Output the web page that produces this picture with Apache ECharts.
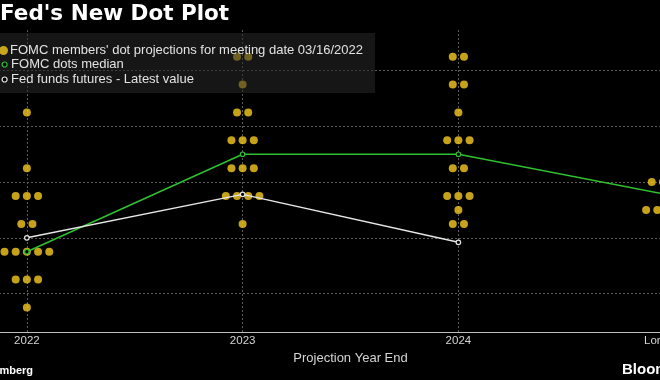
<!DOCTYPE html>
<html><head><meta charset="utf-8">
<script src="https://cdn.jsdelivr.net/npm/echarts@6/dist/echarts.min.js"></script>
<style>html,body{margin:0;padding:0;background:#000;}#c{width:660px;height:380px;}</style>
</head><body><div id="c"></div>
<script>
// ---- data ----
const categories = ['2022', '2023', '2024', 'Longer Run'];
const dots2022 = [3.125, 2.625, 2.375, 2.375, 2.375, 2.125, 2.125, 1.875, 1.875, 1.875, 1.875, 1.875, 1.625, 1.625, 1.625, 1.375];
const dots2023 = [3.625, 3.625, 3.375, 3.125, 3.125, 2.875, 2.875, 2.875, 2.625, 2.625, 2.625, 2.375, 2.375, 2.375, 2.375, 2.125];
const dots2024 = [3.625, 3.625, 3.375, 3.375, 3.125, 2.875, 2.875, 2.875, 2.625, 2.625, 2.375, 2.375, 2.375, 2.25, 2.125, 2.125];
const dotsLonger = [3.0, 3.0, 2.75, 2.5, 2.5, 2.5, 2.5, 2.5, 2.25, 2.25, 2.25, 2.25, 2.25, 2.25, 2.0, 2.0];
const medianValues = [1.875, 2.75, 2.75, 2.375];
const futuresValues = [2.0, 2.39, 1.96, null];
const gridValues = [1.5, 2.0, 2.5, 3.0, 3.5];
const seriesNames = ["FOMC members' dot projections for meeting date 03/16/2022", 'FOMC dots median', 'Fed funds futures - Latest value'];

// ---- styling ----
const DOT_SPACING = 11.2;
const YELLOW = '#f6cb20';
const GREEN = '#2fc12f';
const WHITE = '#e6e6e6';
const FONT = 'Liberation Sans';

function buildDots(cat, vals) {
  const groups = {};
  vals.forEach(v => { (groups[v] = groups[v] || []).push(v); });
  const out = [];
  Object.keys(groups).forEach(k => {
    const n = groups[k].length;
    for (let i = 0; i < n; i++) {
      out.push({ value: [cat, Number(k)], symbolOffset: [(i - (n - 1) / 2) * DOT_SPACING, 0] });
    }
  });
  return out;
}
const allDots = [].concat(
  buildDots(categories[0], dots2022),
  buildDots(categories[1], dots2023),
  buildDots(categories[2], dots2024),
  buildDots(categories[3], dotsLonger)
);

const chart = echarts.init(document.getElementById('c'), null, { renderer: 'canvas' });
const gridLine = { color: '#5c5c5c', type: [2, 2], width: 1 };
chart.setOption({
  backgroundColor: '#000',
  animation: false,
  title: {
    text: "Fed's New Dot Plot", left: 0, top: 3, padding: 0,
    textStyle: { color: '#fff', fontFamily: 'DejaVu Sans', fontWeight: 'bold', fontSize: 21.5 }
  },
  grid: { left: -81, right: -122, top: 30, bottom: 48, containLabel: false, outerBoundsMode: 'none' },
  xAxis: {
    type: 'category', data: categories, boundaryGap: true,
    axisLine: { show: true, lineStyle: { color: '#bdbdbd', width: 1 } },
    axisTick: { show: false },
    splitLine: { show: false },
    axisLabel: { interval: 0, color: '#d4d4d4', fontFamily: FONT, fontSize: 11.5, margin: 3, hideOverlap: false },
    name: 'Projection Year End', nameLocation: 'middle', nameGap: 13,
    nameTextStyle: { color: '#d4d4d4', fontFamily: FONT, fontSize: 13 }
  },
  yAxis: {
    type: 'value', min: 1.155, max: 3.865,
    axisLine: { show: false }, axisTick: { show: false }, axisLabel: { show: false },
    splitLine: { show: false }
  },
  legend: [
    {
      data: [{ name: seriesNames[0], icon: 'circle', itemStyle: { color: YELLOW } }],
      left: -1, top: 44, padding: 0, itemWidth: 9, itemHeight: 9, z: 10,
      textStyle: { color: '#e2e2e2', fontFamily: FONT, fontSize: 13, padding: [0, 0, 0, -3] },
      selectedMode: false
    },
    {
      data: [
        { name: seriesNames[1], icon: 'circle', itemStyle: { color: '#000', borderColor: GREEN, borderWidth: 1.2 } },
        { name: seriesNames[2], icon: 'circle', itemStyle: { color: '#000', borderColor: WHITE, borderWidth: 1.2 } }
      ],
      orient: 'vertical', left: 1.5, top: 58, padding: 0, itemWidth: 5, itemHeight: 5, itemGap: 2, z: 10,
      textStyle: { color: '#e2e2e2', fontFamily: FONT, fontSize: 13, padding: [0, 0, 0, -1] },
      selectedMode: false
    }
  ],
  graphic: [
    { type: 'rect', left: 0, top: 33, z: 4, shape: { width: 375, height: 60 }, style: { fill: 'rgba(40,40,40,0.55)' } },
    { type: 'text', x: 33, y: 371, z: 10, style: { text: 'Source: Bloomberg', fill: '#fff', font: 'bold 11px "Liberation Sans"', textAlign: 'right', textVerticalAlign: 'middle' } },
    { type: 'text', x: 622, y: 369.5, z: 10, style: { text: 'Bloomberg', fill: '#fff', font: 'bold 15px "Liberation Sans"', textAlign: 'left', textVerticalAlign: 'middle' } }
  ],
  series: [
    {
      name: seriesNames[0], type: 'scatter', data: allDots, symbol: 'circle', symbolSize: 8,
      itemStyle: { color: YELLOW }, z: 2,
      markLine: {
        silent: true, symbol: 'none', z: 1, label: { show: false }, animation: false,
        lineStyle: gridLine,
        data: gridValues.map(v => ({ yAxis: v })).concat(categories.map(c => ({ xAxis: c })))
      }
    },
    {
      name: seriesNames[1], type: 'line', data: medianValues, symbol: 'circle', symbolSize: 4.5,
      lineStyle: { color: GREEN, width: 1.5 },
      itemStyle: { color: '#000', borderColor: GREEN, borderWidth: 1.2 }, z: 3
    },
    {
      name: seriesNames[2], type: 'line', data: futuresValues, symbol: 'circle', symbolSize: 4.5,
      lineStyle: { color: WHITE, width: 1.5 },
      itemStyle: { color: '#000', borderColor: WHITE, borderWidth: 1.2 }, z: 3
    }
  ]
});
</script></body></html>
